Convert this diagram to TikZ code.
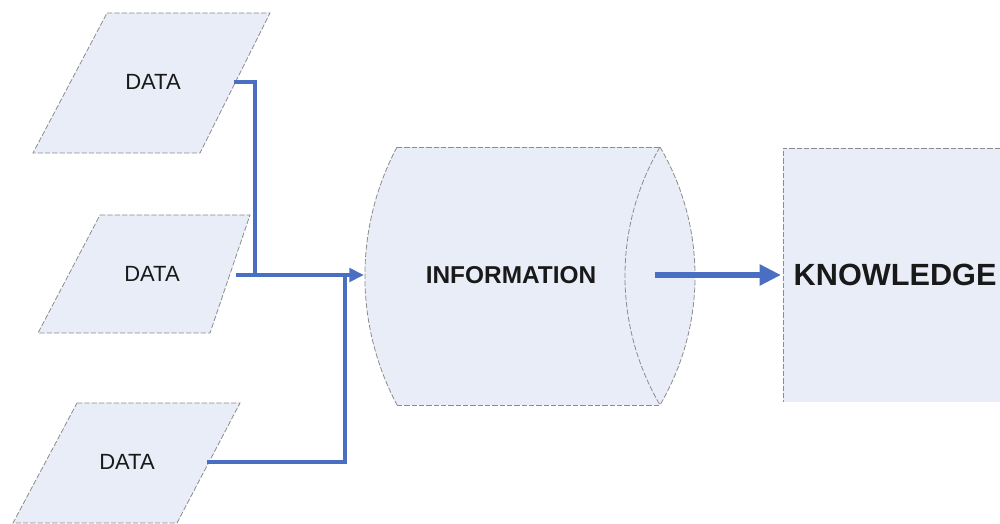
\documentclass[tikz,border=0pt]{standalone}
\usepackage{fontspec}
\setmainfont{Liberation Sans}
\usetikzlibrary{arrows.meta}
\definecolor{shapefill}{HTML}{E9EDF7}
\definecolor{edgegray}{HTML}{8C8C8C}
\definecolor{linkblue}{HTML}{4A6FC2}
\tikzset{
  datashape/.style={fill=shapefill, draw=edgegray, line width=0.6pt, dash pattern=on 4pt off 1.5pt},
  outline/.style={draw=edgegray, line width=0.6pt, dash pattern=on 4pt off 1.5pt},
  datalabel/.style={font=\fontsize{16.5}{20}\selectfont, text=black!90},
  biglabel/.style={font=\bfseries\fontsize{18.3}{22}\selectfont, text=black!90},
  hugelabel/.style={font=\bfseries\fontsize{23}{27}\selectfont, text=black!90},
  conn/.style={draw=linkblue, line width=2.8pt},
  connarrow/.style={conn, -{Triangle[length=11pt, width=10pt]}},
  mainarrow/.style={draw=linkblue, line width=5.2pt, -{Triangle[length=16pt, width=15pt]}}
}
\begin{document}
\begin{tikzpicture}[x=0.75pt, y=-0.75pt]
  \useasboundingbox (0,0) rectangle (1000,524);

  % three DATA sources
  \path[datashape] (107,13) -- (270,13) -- (200,153) -- (33,153) -- cycle;
  \path[datashape] (100,215) -- (250,215) -- (210,333) -- (38,333) -- cycle;
  \path[datashape] (77,403) -- (240,403) -- (177,523) -- (13,523) -- cycle;
  \node[datalabel] (data1) at (153,82) {DATA};
  \node[datalabel] (data2) at (152,274) {DATA};
  \node[datalabel] (data3) at (127,462) {DATA};

  % INFORMATION store (horizontal cylinder)
  \path[fill=shapefill] (397,147) -- (660,147)
    .. controls (706.7,226.7) and (706.7,325.3) .. (660,405)
    -- (397,405)
    .. controls (354.2,324.2) and (354.2,227.8) .. (397,147) -- cycle;
  \draw[outline] (397,147) -- (660,147);
  \draw[outline] (397,405) -- (660,405);
  \draw[outline] (397,147) .. controls (354.2,227.8) and (354.2,324.2) .. (397,405);
  \draw[outline] (660,147) .. controls (706.7,226.7) and (706.7,325.3) .. (660,405);
  \draw[outline] (660,147) .. controls (613.3,226.7) and (613.3,325.3) .. (660,405);
  \node[biglabel] (info) at (511,275) {INFORMATION};

  % KNOWLEDGE box
  \path[fill=shapefill] (783,148) rectangle (1000,402);
  \draw[outline] (1000,148) -- (783,148) -- (783,402);
  \node[hugelabel, anchor=west] (know) at (789,275) {KNOWLEDGE};

  % connector anchor points
  \coordinate (d1out) at (234,82);
  \coordinate (d2out) at (236,275);
  \coordinate (d3out) at (207,462);
  \coordinate (j1) at (255,275);
  \coordinate (j3) at (345,275);
  \coordinate (infoin) at (364,275);
  \coordinate (infoout) at (655,275);
  \coordinate (knowin) at (781,275);

  % connectors
  \draw[conn] (d1out) -| (j1);
  \draw[conn] (d3out) -| (j3);
  \draw[connarrow] (d2out) -- (infoin);
  \draw[mainarrow] (infoout) -- (knowin);
\end{tikzpicture}
\end{document}
